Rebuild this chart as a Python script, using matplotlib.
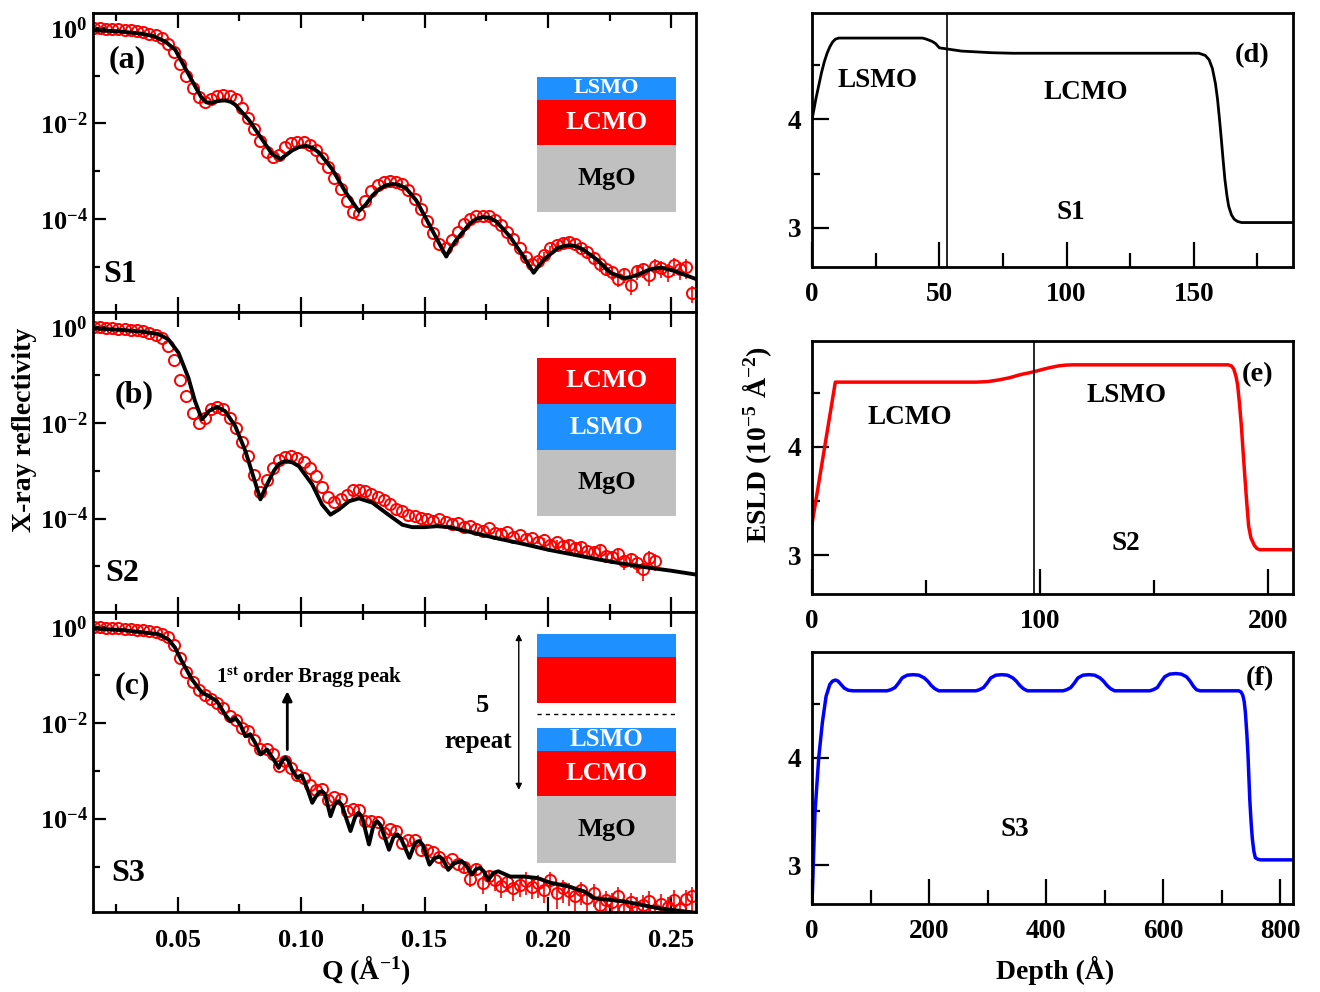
import numpy as np
import matplotlib
matplotlib.use('Agg')
import matplotlib.pyplot as plt
from matplotlib.patches import Rectangle
from matplotlib.ticker import FixedLocator, FixedFormatter

plt.rcParams['font.family'] = ['Liberation Serif', 'DejaVu Serif']
plt.rcParams['font.weight'] = 'bold'
plt.rcParams['mathtext.fontset'] = 'custom'
plt.rcParams['mathtext.rm'] = 'Liberation Serif:bold'
plt.rcParams['mathtext.bf'] = 'Liberation Serif:bold'
plt.rcParams['mathtext.it'] = 'Liberation Serif:bold:italic'

# ---- reflectivity data (log10 R) ----
q_meas = [0.016, 0.0185, 0.021, 0.0235, 0.026, 0.0285, 0.031, 0.0335, 0.036, 0.0385,
          0.041, 0.0435, 0.046, 0.0485, 0.051, 0.0535, 0.056, 0.0585, 0.061, 0.0635,
          0.066, 0.0685, 0.071, 0.0735, 0.076, 0.0785, 0.081, 0.0835, 0.086, 0.0885,
          0.091, 0.0935, 0.096, 0.0985, 0.101, 0.1035, 0.106, 0.1085, 0.111, 0.1135,
          0.116, 0.1185, 0.121, 0.1235, 0.126, 0.1285, 0.131, 0.1335, 0.136, 0.1385,
          0.141, 0.1435, 0.146, 0.1485, 0.151, 0.1535, 0.156, 0.1585, 0.161, 0.1635,
          0.166, 0.1685, 0.171, 0.1735, 0.176, 0.1785, 0.181, 0.1835, 0.186, 0.1885,
          0.191, 0.1935, 0.196, 0.1985, 0.201, 0.2035, 0.206, 0.2085, 0.211, 0.2135,
          0.216, 0.2185, 0.221, 0.2235, 0.226, 0.2285, 0.231, 0.2335, 0.236, 0.2385,
          0.241, 0.2435, 0.246, 0.2485, 0.251, 0.2535, 0.256, 0.2585]

data_a = [-0.00, -0.01, -0.02, -0.03, -0.03, -0.04, -0.05, -0.07, -0.09, -0.12,
          -0.16, -0.22, -0.33, -0.50, -0.75, -1.00, -1.25, -1.45, -1.55, -1.50,
          -1.43, -1.40, -1.42, -1.50, -1.68, -1.88, -2.12, -2.38, -2.60, -2.70,
          -2.66, -2.50, -2.42, -2.39, -2.40, -2.45, -2.55, -2.72, -2.92, -3.15,
          -3.38, -3.62, -3.85, -3.90, -3.62, -3.42, -3.30, -3.23, -3.21, -3.22,
          -3.28, -3.40, -3.58, -3.80, -4.05, -4.30, -4.52, -4.62, -4.45, -4.28,
          -4.10, -4.00, -3.95, -3.93, -3.95, -4.02, -4.12, -4.28, -4.42, -4.62,
          -4.80, -4.95, -4.88, -4.75, -4.62, -4.55, -4.50, -4.48, -4.52, -4.60,
          -4.70, -4.82, -4.95, -5.05, -5.12, -5.25, -5.15, -5.38, -5.10, -5.05,
          -5.18, -4.98, -5.02, -5.10, -4.97, -5.05, -5.00, -5.55]
err_a = [0.0] * 70 + [0.1, 0.1, 0.15, 0.15, 0.15, 0.15, 0.2, 0.2, 0.2, 0.2,
                      0.25, 0.25, 0.3, 0.3, 0.3, 0.35, 0.35, 0.4, 0.35, 0.35,
                      0.4, 0.35, 0.4, 0.4, 0.4, 0.4, 0.45, 0.4]

data_b = [-0.00, -0.01, -0.02, -0.03, -0.04, -0.05, -0.06, -0.07, -0.09, -0.12,
          -0.16, -0.24, -0.40, -0.70, -1.10, -1.45, -1.80, -2.00, -1.90, -1.72,
          -1.68, -1.72, -1.90, -2.12, -2.40, -2.70, -3.10, -3.45, -3.20, -2.95,
          -2.78, -2.72, -2.70, -2.74, -2.82, -2.95, -3.12, -3.35, -3.55, -3.65,
          -3.60, -3.50, -3.40, -3.40, -3.43, -3.48, -3.55, -3.62, -3.70, -3.80,
          -3.85, -3.92, -3.95, -3.98, -4.02, -4.05, -4.00, -4.08, -4.12, -4.10,
          -4.18, -4.15, -4.22, -4.25, -4.20, -4.30, -4.33, -4.28, -4.38, -4.35,
          -4.42, -4.40, -4.48, -4.45, -4.55, -4.50, -4.58, -4.55, -4.62, -4.60,
          -4.68, -4.70, -4.65, -4.78, -4.80, -4.75, -4.88, -4.85, -4.92, -5.05,
          -4.82, -4.88]
err_b = [0.0] * 70 + [0.0, 0.0, 0.1, 0.1, 0.15, 0.15, 0.15, 0.2, 0.2, 0.2,
                      0.2, 0.25, 0.25, 0.3, 0.3, 0.3, 0.35, 0.35, 0.4, 0.45,
                      0.4, 0.4]

data_c = [-0.00, -0.01, -0.02, -0.03, -0.03, -0.04, -0.05, -0.06, -0.07, -0.09,
          -0.11, -0.15, -0.22, -0.38, -0.65, -0.95, -1.15, -1.32, -1.42, -1.50,
          -1.58, -1.70, -1.85, -1.95, -2.10, -2.18, -2.35, -2.55, -2.55, -2.65,
          -2.90, -2.80, -2.95, -3.10, -3.15, -3.30, -3.40, -3.38, -3.62, -3.55,
          -3.60, -3.85, -3.80, -3.82, -4.05, -4.05, -4.08, -4.30, -4.22, -4.25,
          -4.50, -4.45, -4.45, -4.65, -4.65, -4.70, -4.80, -4.90, -4.85, -4.95,
          -5.00, -5.25, -5.05, -5.35, -5.20, -5.28, -5.40, -5.32, -5.45, -5.38,
          -5.30, -5.42, -5.35, -5.50, -5.28, -5.55, -5.45, -5.52, -5.62, -5.50,
          -5.65, -5.55, -5.80, -5.70, -5.75, -5.62, -5.88, -5.75, -5.85, -5.80,
          -5.72, -5.90, -5.78, -5.85, -5.70, -5.88, -5.68, -5.62]
err_c = [0.0] * 60 + [0.3, 0.35, 0.3, 0.4, 0.35, 0.4, 0.45, 0.4, 0.45, 0.45,
                      0.5, 0.45, 0.5, 0.45, 0.45, 0.55, 0.5, 0.5, 0.55, 0.5,
                      0.55, 0.5, 0.6, 0.55, 0.6, 0.55, 0.6, 0.6, 0.6, 0.6,
                      0.6, 0.6, 0.6, 0.6, 0.6, 0.6, 0.55, 0.55]

# ---- fits (log10 R) ----
fit_q_a = [0.0157, 0.025, 0.035, 0.040, 0.045, 0.049, 0.053, 0.057, 0.0595, 0.0615,
           0.0638, 0.0665, 0.0692, 0.0715, 0.0733, 0.0787, 0.0841, 0.0882, 0.0916, 0.094,
           0.0963, 0.099, 0.1018, 0.1045, 0.1072, 0.1126, 0.118, 0.1234, 0.1262, 0.1289,
           0.1316, 0.1343, 0.137, 0.1397, 0.1425, 0.1466, 0.152, 0.1588, 0.1605, 0.1629,
           0.1683, 0.171, 0.1738, 0.1765, 0.1792, 0.1846, 0.1901, 0.1942, 0.1962, 0.1982,
           0.2037, 0.2064, 0.2091, 0.2118, 0.2145, 0.22, 0.2254, 0.2308, 0.2335, 0.2363,
           0.2417, 0.2458, 0.2512, 0.2605]
fit_a = [-0.05, -0.07, -0.12, -0.17, -0.29, -0.46, -0.84, -1.22, -1.45, -1.56,
         -1.57, -1.53, -1.52, -1.55, -1.61, -1.92, -2.33, -2.64, -2.75, -2.66,
         -2.57, -2.50, -2.47, -2.51, -2.61, -2.96, -3.44, -3.84, -3.70, -3.51,
         -3.38, -3.30, -3.27, -3.29, -3.36, -3.61, -4.13, -4.79, -4.62, -4.44,
         -4.10, -4.00, -3.96, -3.98, -4.06, -4.37, -4.79, -5.13, -4.99, -4.86,
         -4.62, -4.57, -4.55, -4.58, -4.65, -4.86, -5.13, -5.24, -5.22, -5.17,
         -5.05, -5.02, -5.09, -5.27]

fit_q_b = [0.0157, 0.0286, 0.0354, 0.0421, 0.0462, 0.0503, 0.0543, 0.057, 0.0598, 0.0612,
           0.0625, 0.0659, 0.0692, 0.0733, 0.0774, 0.0808, 0.0835, 0.0855, 0.0889, 0.091,
           0.0936, 0.0965, 0.0991, 0.1045, 0.1085, 0.1119, 0.1153, 0.1194, 0.1234, 0.1289,
           0.1343, 0.141, 0.145, 0.150, 0.155, 0.160, 0.17, 0.18, 0.19, 0.20,
           0.21, 0.22, 0.23, 0.24, 0.25, 0.26]
fit_b = [-0.03, -0.07, -0.10, -0.15, -0.26, -0.54, -1.06, -1.55, -1.93, -1.85,
         -1.76, -1.67, -1.76, -2.07, -2.59, -3.15, -3.60, -3.36, -3.01, -2.86,
         -2.80, -2.83, -2.91, -3.29, -3.71, -3.92, -3.81, -3.64, -3.58, -3.67,
         -3.88, -4.13, -4.18, -4.18, -4.16, -4.18, -4.30, -4.42, -4.53, -4.65,
         -4.75, -4.85, -4.94, -5.02, -5.09, -5.17]

fit_q_c = [0.0157, 0.0286, 0.0421, 0.0462, 0.0489, 0.0516, 0.0557, 0.0598, 0.0625, 0.0659,
           0.0692, 0.0713, 0.0733, 0.0753, 0.0774, 0.0794, 0.0814, 0.0835, 0.0862, 0.0889,
           0.0909, 0.0925, 0.0936, 0.0948, 0.0963, 0.0984, 0.0995, 0.1004, 0.1024, 0.1045,
           0.1062, 0.1075, 0.1085, 0.1097, 0.1119, 0.1135, 0.1145, 0.1153, 0.1165, 0.12,
           0.1218, 0.1227, 0.1234, 0.1247, 0.1275, 0.1292, 0.1301, 0.1309, 0.1322, 0.1356,
           0.1373, 0.1382, 0.139, 0.1404, 0.1439, 0.146, 0.147, 0.148, 0.1493, 0.152,
           0.154, 0.1561, 0.1575, 0.1596, 0.162, 0.165, 0.1668, 0.1691, 0.171, 0.1725,
           0.174, 0.1758, 0.178, 0.1799, 0.1847, 0.1902, 0.1957, 0.2011, 0.2079, 0.2147,
           0.2188, 0.231, 0.2446, 0.2607]
fit_c = [-0.03, -0.07, -0.15, -0.26, -0.43, -0.71, -1.09, -1.37, -1.44, -1.55,
         -1.83, -1.97, -1.90, -2.03, -2.28, -2.24, -2.42, -2.66, -2.56, -2.77,
         -2.94, -2.78, -2.73, -2.79, -2.98, -3.15, -3.11, -3.11, -3.36, -3.67,
         -3.52, -3.44, -3.43, -3.49, -3.95, -3.72, -3.65, -3.64, -3.72, -4.26,
         -3.98, -3.90, -3.88, -3.97, -4.54, -4.16, -4.08, -4.06, -4.14, -4.65,
         -4.40, -4.34, -4.33, -4.41, -4.82, -4.53, -4.48, -4.47, -4.55, -4.96,
         -4.83, -4.79, -4.86, -5.07, -4.93, -4.89, -4.97, -5.17, -5.05, -5.03,
         -5.10, -5.28, -5.13, -5.10, -5.21, -5.21, -5.24, -5.34, -5.41, -5.52,
         -5.66, -5.73, -5.87, -5.97]

# ---- ESLD profiles ----
depth_d = [0, 0.4, 1.5, 2.6, 3.7, 4.8, 5.9, 7.0, 8.1, 9.2, 10.5, 43.4, 44.9, 47.1, 48.5,
           50, 52.9, 58.7, 70.4, 79, 152, 154.5, 156, 157.3, 158.5, 159.3, 160.1, 160.8,
           161.5, 162.2, 163, 163.7, 164.8, 165.9, 167.2, 168.8, 189]
esld_d = [4.0, 4.05, 4.19, 4.31, 4.43, 4.53, 4.61, 4.67, 4.715, 4.74, 4.75, 4.75, 4.74, 4.72,
          4.70, 4.66, 4.65, 4.63, 4.615, 4.61, 4.61, 4.59, 4.55, 4.47, 4.33, 4.19, 4.00, 3.82,
          3.63, 3.45, 3.30, 3.20, 3.12, 3.08, 3.06, 3.05, 3.05]

depth_e = [0, 10.2, 72, 77, 81.8, 86.5, 91.5, 95, 98, 101.5, 104.6, 108, 111, 114, 117.6,
           182.6, 184, 185, 186, 186.7, 187.5, 188.3, 189.1, 189.9, 190.7, 191.5, 192.5,
           194, 195.2, 196.4, 211]
esld_e = [3.29, 4.60, 4.60, 4.605, 4.62, 4.64, 4.67, 4.685, 4.70, 4.72, 4.735, 4.75, 4.757,
          4.76, 4.76, 4.76, 4.75, 4.72, 4.65, 4.57, 4.40, 4.20, 3.95, 3.71, 3.48, 3.27, 3.16,
          3.09, 3.06, 3.05, 3.05]

depth_f = [0, 5, 11.4, 17.7, 24, 30.4, 35, 39.8, 44.5, 49.3, 55, 62, 70,
           128, 134.6, 141.6, 147.6, 154, 162.6, 172.6, 182.6, 191.6, 197.6, 203.6, 209.6, 216.6,
           280, 286, 293, 299, 305.4, 314, 324, 334, 343, 349, 355, 361, 368,
           429, 435, 442, 448, 454.4, 463, 473, 483, 492, 498, 504, 510, 517,
           577, 583, 590, 596, 602.6, 611, 621.6, 631, 640, 646, 652, 657, 663,
           729, 733, 736, 738.5, 740.5, 743, 745, 748, 750.5, 752.5, 755, 757.5, 762, 767, 822]
esld_f = [2.65, 3.49, 4.0, 4.33, 4.57, 4.68, 4.71, 4.72, 4.71, 4.68, 4.645, 4.625, 4.62,
          4.62, 4.63, 4.65, 4.69, 4.74, 4.765, 4.77, 4.765, 4.74, 4.71, 4.67, 4.64, 4.62,
          4.62, 4.63, 4.65, 4.69, 4.74, 4.765, 4.77, 4.765, 4.74, 4.71, 4.67, 4.64, 4.62,
          4.62, 4.63, 4.65, 4.69, 4.74, 4.765, 4.77, 4.765, 4.74, 4.71, 4.67, 4.64, 4.62,
          4.62, 4.63, 4.65, 4.70, 4.75, 4.775, 4.78, 4.775, 4.75, 4.71, 4.66, 4.63, 4.62,
          4.62, 4.61, 4.58, 4.52, 4.42, 4.22, 4.02, 3.61, 3.38, 3.24, 3.13, 3.07, 3.055, 3.05, 3.05]

RED = '#FF0000'
BLUE = '#1E90FF'
GRAY = '#C0C0C0'

fig = plt.figure(figsize=(13.2, 9.92), dpi=100)

left_pos = [[0.0705, 0.6855, 0.4568, 0.3014],
            [0.0705, 0.3831, 0.4568, 0.3024],
            [0.0705, 0.0806, 0.4568, 0.3024]]
right_pos = [[0.6152, 0.7308, 0.3644, 0.2560],
             [0.6152, 0.4012, 0.3644, 0.2550],
             [0.6152, 0.0887, 0.3644, 0.2540]]


def style_left(ax, bottom):
    ax.set_yscale('log')
    ax.set_xlim(0.0157, 0.26)
    ax.set_ylim(10 ** -5.95, 10 ** 0.31)
    ax.xaxis.set_major_locator(FixedLocator([0.05, 0.10, 0.15, 0.20, 0.25]))
    ax.xaxis.set_minor_locator(FixedLocator([0.025, 0.075, 0.125, 0.175, 0.225]))
    ax.yaxis.set_major_locator(FixedLocator([1, 1e-2, 1e-4]))
    ax.yaxis.set_major_formatter(FixedFormatter(['$10^{0}$', '$10^{-2}$', '$10^{-4}$']))
    ax.yaxis.set_minor_locator(FixedLocator([1e-1, 1e-3, 1e-5]))
    ax.yaxis.set_minor_formatter(FixedFormatter([]))
    ax.tick_params(axis='both', which='both', direction='in', width=1.6,
                   labelsize=19, top=True, right=False)
    ax.tick_params(axis='x', which='major', length=11, pad=12)
    ax.tick_params(axis='x', which='minor', length=6)
    ax.tick_params(axis='y', which='major', length=9, pad=4)
    ax.tick_params(axis='y', which='minor', length=5)
    if bottom:
        ax.set_xticklabels(['0.05', '0.10', '0.15', '0.20', '0.25'])
    else:
        ax.tick_params(axis='x', labelbottom=False)
    for s in ax.spines.values():
        s.set_linewidth(2)


def plot_refl(ax, q, logr, err, fq, flog):
    r = 10 ** np.array(logr)
    e = r * np.array(err)
    ax.errorbar(q, r, yerr=e, fmt='o', ms=8, mfc='none', mec=RED, mew=1.4,
                ecolor=RED, elinewidth=1.2, capsize=0, zorder=2, clip_on=True)
    ax.plot(fq, 10 ** np.array(flog), color='black', lw=2.8, zorder=3,
            solid_joinstyle='round')


def stack(ax, layers):
    for y0, y1, col, label, fs, tcol in layers:
        ax.add_patch(Rectangle((0.736, y0), 0.231, y1 - y0, transform=ax.transAxes,
                               color=col, zorder=5, lw=0))
        if label:
            ax.text(0.8515, (y0 + y1) / 2, label, transform=ax.transAxes, ha='center',
                    va='center', fontsize=fs, color=tcol, fontweight='bold', zorder=6)


axa = fig.add_axes(left_pos[0])
axb = fig.add_axes(left_pos[1])
axc = fig.add_axes(left_pos[2])

plot_refl(axa, q_meas, data_a, err_a, fit_q_a, fit_a)
plot_refl(axb, q_meas[:len(data_b)], data_b, err_b, fit_q_b, fit_b)
plot_refl(axc, q_meas, data_c, err_c, fit_q_c, fit_c)

style_left(axa, False)
style_left(axb, False)
style_left(axc, True)

stack(axa, [(0.709, 0.786, BLUE, 'LSMO', 16, 'white'),
            (0.559, 0.709, RED, 'LCMO', 19, 'white'),
            (0.334, 0.559, GRAY, 'MgO', 19, 'black')])
stack(axb, [(0.693, 0.847, RED, 'LCMO', 19, 'white'),
            (0.540, 0.693, BLUE, 'LSMO', 18, 'white'),
            (0.320, 0.540, GRAY, 'MgO', 19, 'black')])
stack(axc, [(0.850, 0.927, BLUE, '', 16, 'white'),
            (0.697, 0.850, RED, '', 19, 'white'),
            (0.537, 0.613, BLUE, 'LSMO', 18, 'white'),
            (0.387, 0.537, RED, 'LCMO', 19, 'white'),
            (0.163, 0.387, GRAY, 'MgO', 19, 'black')])
axc.plot([0.736, 0.967], [0.660, 0.660], transform=axc.transAxes, ls=(0, (3, 3)),
         color='black', lw=1, zorder=6)
axc.annotate('', xy=(0.706, 0.407), xytext=(0.706, 0.927), xycoords='axes fraction',
             arrowprops=dict(arrowstyle='<|-|>', lw=1, color='black', mutation_scale=9,
                             shrinkA=0, shrinkB=0))
axc.text(0.645, 0.690, '5', transform=axc.transAxes, ha='center', va='center', fontsize=19)
axc.text(0.638, 0.570, 'repeat', transform=axc.transAxes, ha='center', va='center', fontsize=18)
axc.annotate('', xy=(0.0944, 10 ** -1.34), xytext=(0.0944, 10 ** -2.56),
             arrowprops=dict(arrowstyle='-|>', lw=2, color='black', mutation_scale=14,
                             shrinkA=0, shrinkB=0))
axc.text(0.1032, 10 ** -1.07, '1$^{\\mathrm{st}}$ order Bragg peak', ha='center',
         va='center', fontsize=15)

for ax, lab, fx, fy in [(axa, '(a)', 0.056, 0.843), (axb, '(b)', 0.068, 0.723),
                        (axc, '(c)', 0.066, 0.753)]:
    ax.text(fx, fy, lab, transform=ax.transAxes, ha='center', va='center', fontsize=23)
for ax, lab, fx in [(axa, 'S1', 0.045), (axb, 'S2', 0.048), (axc, 'S3', 0.058)]:
    ax.text(fx, 0.127, lab, transform=ax.transAxes, ha='center', va='center', fontsize=23)

# ---- right column ----
axd = fig.add_axes(right_pos[0])
axe = fig.add_axes(right_pos[1])
axf = fig.add_axes(right_pos[2])

axd.plot(depth_d, esld_d, color='black', lw=2)
axe.plot(depth_e, esld_e, color=RED, lw=2.5)
axf.plot(depth_f, esld_f, color='#0000FF', lw=2.5)
axd.axvline(52.9, color='black', lw=1.2)
axe.axvline(97.3, color='black', lw=1.2)

for ax, xmax, major, minor in [(axd, 189, [0, 50, 100, 150], [25, 75, 125, 175]),
                               (axe, 211, [0, 100, 200], [50, 150]),
                               (axf, 822, [0, 200, 400, 600, 800], [100, 300, 500, 700])]:
    ax.set_xlim(0, xmax)
    ax.set_ylim(2.64, 4.98)
    ax.xaxis.set_major_locator(FixedLocator(major))
    ax.xaxis.set_minor_locator(FixedLocator(minor))
    ax.yaxis.set_major_locator(FixedLocator([3, 4]))
    ax.yaxis.set_minor_locator(FixedLocator([3.5, 4.5]))
    ax.tick_params(axis='both', which='both', direction='in', width=1.6, labelsize=19.5,
                   top=False, right=False)
    ax.tick_params(axis='x', which='major', length=18, pad=11)
    ax.tick_params(axis='x', which='minor', length=10)
    ax.tick_params(axis='y', which='major', length=12, pad=8)
    ax.tick_params(axis='y', which='minor', length=6)
    for s in ax.spines.values():
        s.set_linewidth(2)

axd.text(0.137, 0.736, 'LSMO', transform=axd.transAxes, ha='center', va='center', fontsize=19.5)
axd.text(0.570, 0.689, 'LCMO', transform=axd.transAxes, ha='center', va='center', fontsize=19.5)
axd.text(0.538, 0.213, 'S1', transform=axd.transAxes, ha='center', va='center', fontsize=19.5)
axd.text(0.915, 0.831, '(d)', transform=axd.transAxes, ha='center', va='center', fontsize=20.5)
axe.text(0.204, 0.696, 'LCMO', transform=axe.transAxes, ha='center', va='center', fontsize=19.5)
axe.text(0.653, 0.783, 'LSMO', transform=axe.transAxes, ha='center', va='center', fontsize=19.5)
axe.text(0.653, 0.198, 'S2', transform=axe.transAxes, ha='center', va='center', fontsize=19.5)
axe.text(0.927, 0.866, '(e)', transform=axe.transAxes, ha='center', va='center', fontsize=20.5)
axf.text(0.422, 0.294, 'S3', transform=axf.transAxes, ha='center', va='center', fontsize=19.5)
axf.text(0.931, 0.893, '(f)', transform=axf.transAxes, ha='center', va='center', fontsize=20.5)

fig.text(25 / 1320, 1 - 430 / 992, 'X-ray reflectivity', rotation=90, ha='center',
         va='center', fontsize=20)
fig.text(366 / 1320, 1 - 970 / 992, 'Q (Å$^{-1}$)', ha='center', va='center', fontsize=20)
fig.text(757 / 1320, 1 - 445 / 992, 'ESLD (10$^{-5}$ Å$^{-2}$)', rotation=90, ha='center',
         va='center', fontsize=20)
fig.text(1055 / 1320, 1 - 970 / 992, 'Depth (Å)', ha='center', va='center', fontsize=20)

fig.savefig('out.png', dpi=100)
